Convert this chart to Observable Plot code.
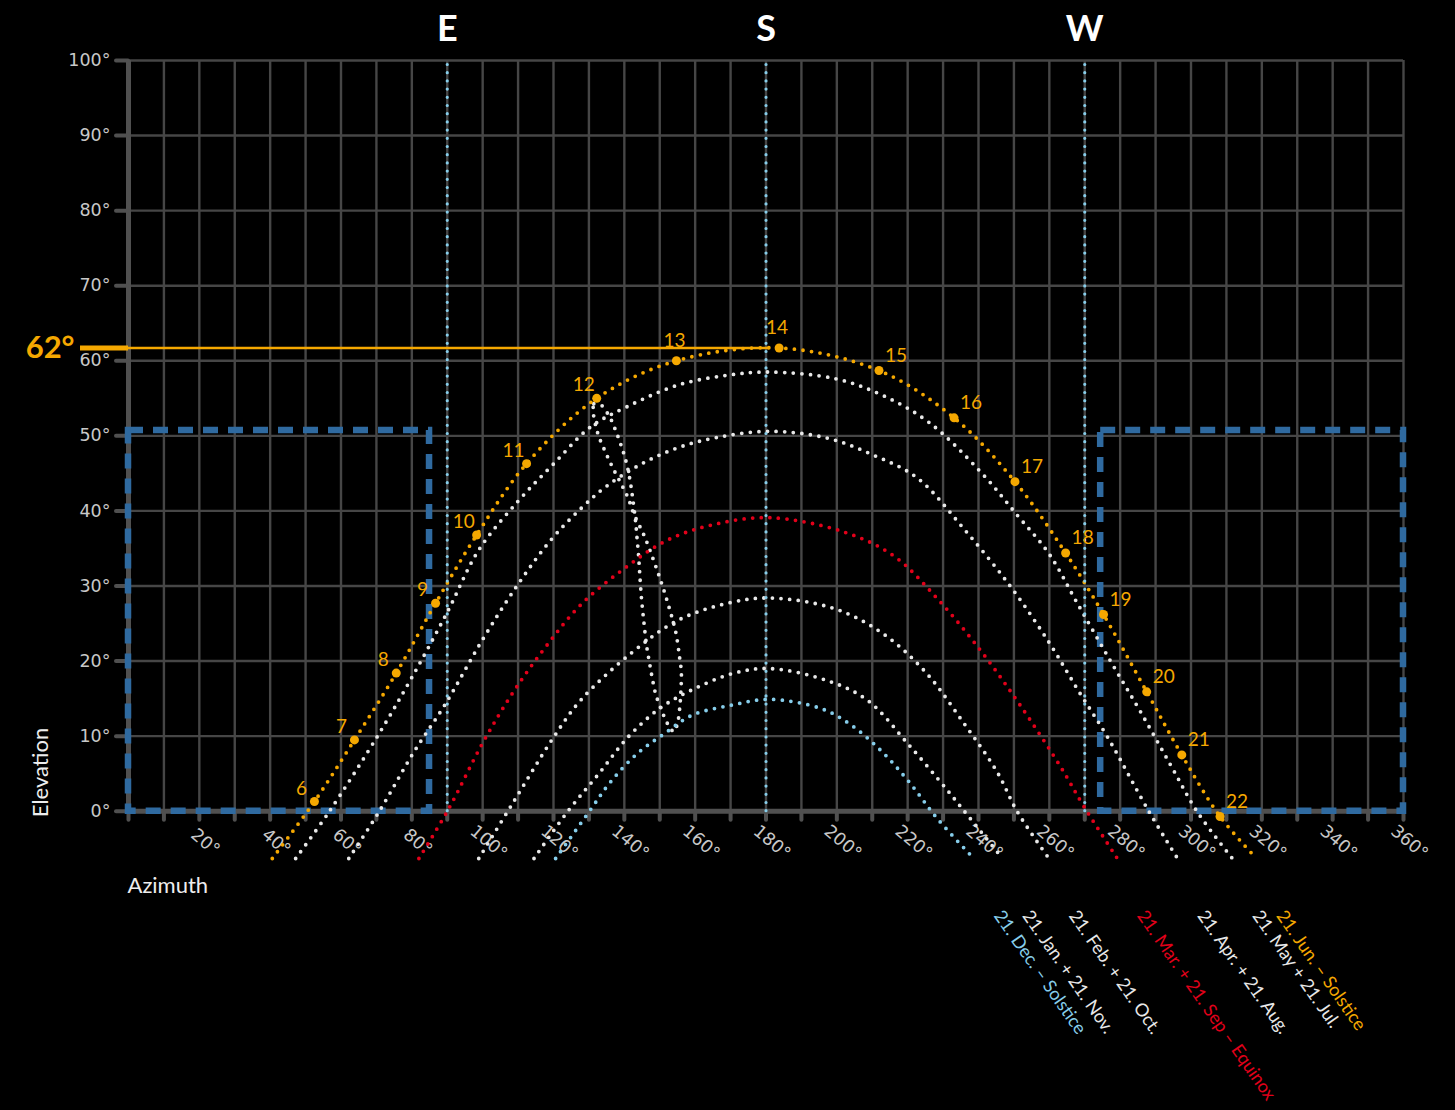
<!DOCTYPE html>
<html><head><meta charset="utf-8">
<script src="https://cdn.jsdelivr.net/npm/d3@7"></script>
<script src="https://cdn.jsdelivr.net/npm/@observablehq/plot@0.6"></script>
<style>html,body{margin:0;padding:0;background:#000;} #chart{width:1455px;height:1110px;}</style>
</head><body><div id="chart"></div>
<script>
// ---------- data (azimuth°, elevation°) ----------
const xGrid = [0,10,20,30,40,50,60,70,80,90,100,110,120,130,140,150,160,170,180,190,200,210,220,230,240,250,260,270,280,290,300,310,320,330,340,350,360];
const xTickLabels = [20,40,60,80,100,120,140,160,180,200,220,240,260,280,300,320,340,360];
const yGrid = [0,10,20,30,40,50,60,70,80,90,100];
const compassAz = [90,180,270];
const compassLabels = ["E","S","W"];

const junSolstice = [[40.6,-6.3],[52.5,1.3],[63.8,9.5],[75.6,18.4],[86.7,27.7],[98.3,36.8],[112.4,46.3],[132.2,55.0],[154.7,60.0],[183.7,61.7],[211.9,58.7],[233.1,52.4],[250.3,43.9],[264.6,34.4],[275.3,26.2],[287.5,15.9],[297.4,7.5],[308.2,-0.7],[318.5,-6.3]];
const junHours = [null,6,7,8,9,10,11,12,13,14,15,16,17,18,19,20,21,22,null];
const mayJul = [[47.2,-6.3],[56.6,-0.1],[70.7,10.3],[80.1,17.9],[90.0,26.5],[98.9,34.8],[110.2,41.4],[120.1,46.3],[130.5,51.2],[140.4,53.8],[155.4,56.8],[169.5,58.1],[181,58.5],[199.7,57.6],[212.9,55.4],[226.0,51.8],[240.6,45.2],[251.0,39.4],[259.9,34.3],[267.9,27.7],[277.4,19.9],[285.8,13.2],[294.3,6.1],[301.8,-0.1],[311.7,-6.3]];
const aprAug = [[62.2,-6.3],[70.7,-0.1],[80.6,7.9],[89.5,14.3],[99.9,22.8],[109.8,30.1],[119.2,36.1],[127.7,40.3],[134.7,43.2],[144.6,46.2],[155.0,48.4],[166.3,49.8],[181,50.6],[197.3,49.7],[210.5,47.4],[222.7,44.4],[235.9,37.6],[249.1,29.9],[259.9,22.5],[268.4,15.9],[276.4,9.9],[288.2,-0.1],[296.2,-6.3]];
const marSep = [[82.0,-6.3],[90.5,0.4],[99.9,9.0],[108.4,15.7],[117.8,21.9],[127.7,27.5],[139.9,32.3],[152.1,36.1],[165.3,38.2],[181,39.1],[202.0,37.2],[216.1,34.0],[228.4,28.3],[240.6,21.4],[251.5,14.3],[263.2,5.9],[269.8,0.6],[279.2,-6.3]];
const febOct = [[98.9,-6.3],[108.4,1.0],[120.1,9.9],[127.7,14.8],[141.8,21.0],[155.0,25.4],[169.1,27.7],[181,28.4],[199.2,27.0],[212.9,23.7],[225.1,18.5],[235.9,11.7],[245.3,5.2],[251.0,-0.1],[259.9,-6.3]];
const janNov = [[114.5,-6.3],[123.9,-0.1],[132.8,5.0],[141.3,10.0],[150.3,13.8],[159.7,16.3],[171.0,18.4],[181,19.0],[197.3,17.4],[208.6,14.8],[220.4,8.8],[231.2,2.8],[236.0,0.0],[246.8,-6.3]];
const decSolstice = [[120.6,-6.3],[130.0,-0.1],[136.1,3.9],[143.7,7.7],[151.2,10.3],[159.2,12.8],[170.0,14.1],[181,14.9],[195.4,13.7],[203.4,11.7],[212.4,8.1],[220.4,3.9],[228.4,-1.0],[238.7,-6.3]];
const analemma12h = [[132.2,55.1],[131.2,53.8],[132.4,50.5],[134.9,47.6],[136.9,45.6],[139.0,43.7],[141.0,41.8],[142.7,39.6],[145.7,36.6],[148.2,33.5],[150.5,30.4],[152.6,27.2],[154.5,23.9],[155.6,20.5],[156.1,18.5],[156.0,16.3],[155.7,14.1],[155.1,11.9],[154.0,10.6],[152.4,11.5],[150.3,13.7],[148.8,15.7],[147.9,17.7],[147.1,19.8],[146.3,22.0],[145.5,25.3],[144.8,28.6],[144.3,32.0],[144.0,34.2],[143.6,36.3],[143.2,38.5],[142.3,41.9],[141.6,44.1],[140.7,46.2],[139.4,48.3],[137.8,50.4],[135.9,52.5],[133.3,54.3]];
const curveLabels = ["21. Dec. – Solstice","21. Jan. + 21. Nov.","21. Feb. + 21. Oct.","21. Mar. + 21. Sep – Equinox","21. Apr. + 21. Aug.","21. May + 21. Jul.","21. Jun. – Solstice"];
const boxAz1 = [0, 274.5];
const boxAz2 = [85, 360];
const boxEl = [0, 50.7];
const peakAz = 181;
const peakEl = 61.7;

// ---------- styles ----------
const ORANGE = "#f5a800", RED = "#e2001a", LBLUE = "#87ceeb", WHITE = "#e8e8e8",
      BOX = "#2f6aa0", GRID = "#464646", AXIS = "#505050", TICKTXT = "#c8c8c8";

const toPts = (arr) => arr.map(([az, el]) => ({az, el}));
const curves = [
  {pts: toPts(decSolstice), label: curveLabels[0], color: LBLUE},
  {pts: toPts(janNov), label: curveLabels[1], color: WHITE},
  {pts: toPts(febOct), label: curveLabels[2], color: WHITE},
  {pts: toPts(marSep), label: curveLabels[3], color: RED},
  {pts: toPts(aprAug), label: curveLabels[4], color: WHITE},
  {pts: toPts(mayJul), label: curveLabels[5], color: WHITE},
  {pts: toPts(junSolstice), label: curveLabels[6], color: ORANGE}
];
const junPts = junSolstice.map(([az, el], i) => ({az, el, hour: junHours[i]})).filter(d => d.hour != null);
const boxes = boxAz1.map((a, i) => ({x1: a, x2: boxAz2[i], y1: boxEl[0], y2: boxEl[1]}));

const dotted = {strokeWidth: 3.8, strokeDasharray: "0,8.6", strokeLinecap: "round", curve: "catmull-rom"};

const drawOrder = [1, 2, 4, 5, 3, 0, 6];

const chart = Plot.plot({
  width: 1455, height: 1110,
  marginLeft: 128, marginRight: 52, marginTop: 60, marginBottom: 252,
  x: {domain: [0, 360], axis: null},
  y: {domain: [-6.3, 100], axis: null},
  style: {background: "#000", fontFamily: "Lato, 'Open Sans', sans-serif"},
  marks: [
    Plot.ruleX(xGrid, {y1: 0, y2: 100, stroke: GRID, strokeWidth: 2.4}),
    Plot.ruleY(yGrid, {x1: 0, x2: 360, stroke: GRID, strokeWidth: 2.4}),
    Plot.ruleY([0], {x1: 0, x2: 360, stroke: AXIS, strokeWidth: 5}),
    Plot.ruleX([0], {y1: 0, y2: 100, stroke: AXIS, strokeWidth: 5}),
    Plot.ruleX(xGrid, {y1: 0, y2: 0, insetBottom: -9, stroke: AXIS, strokeWidth: 4, strokeLinecap: "round"}),
    Plot.ruleY(yGrid, {x1: 0, x2: 0, insetLeft: -12, stroke: AXIS, strokeWidth: 4, strokeLinecap: "round"}),
    Plot.text(yGrid, {x: 0, y: d => d, dx: -18, textAnchor: "end", text: d => `${d}°`, fill: TICKTXT, fontSize: 17.5, fontFamily: "DejaVu Sans"}),
    Plot.text(xTickLabels, {x: d => d, y: 0, dx: 6, dy: 31, rotate: 40, text: d => `${d}°`, fill: TICKTXT, fontSize: 17.5, fontFamily: "DejaVu Sans"}),
    Plot.text(["Elevation"], {x: 0, y: 0, dx: -88, dy: 6, rotate: -90, textAnchor: "start", text: d => d, fill: "#eee", fontSize: 22}),
    Plot.text(["Azimuth"], {x: 0, y: 0, dx: -1, dy: 75, textAnchor: "start", text: d => d, fill: "#eee", fontSize: 22}),
    Plot.rect(boxes, {x1: "x1", x2: "x2", y1: "y1", y2: "y2", fill: "none", stroke: BOX, strokeWidth: 6.5, strokeDasharray: "15,10"}),
    Plot.ruleY([peakEl], {x1: 0, x2: peakAz, stroke: ORANGE, strokeWidth: 2.6}),
    Plot.ruleY([peakEl], {x1: 0, x2: 0, insetLeft: -48, stroke: ORANGE, strokeWidth: 5}),
    Plot.text([peakEl], {x: 0, y: d => d, dx: -54, textAnchor: "end", text: d => `${Math.round(d)}°`, fill: ORANGE, fontSize: 31, fontWeight: 700}),
    Plot.line(toPts(analemma12h), {x: "az", y: "el", stroke: WHITE, ...dotted, curve: "catmull-rom-closed"}),
    ...drawOrder.map(i => Plot.line(curves[i].pts, {x: "az", y: "el", stroke: curves[i].color, ...dotted})),
    Plot.ruleX(compassAz, {y1: 0, y2: 100, stroke: LBLUE, strokeWidth: 3.2, strokeDasharray: "0,8.2", strokeLinecap: "round"}),
    Plot.text(compassAz, {x: d => d, y: 100, dy: -31, text: (d, i) => compassLabels[i], fill: "#fff", fontSize: 36, fontWeight: 700}),
    Plot.dot(junPts, {x: "az", y: "el", r: 4.5, fill: ORANGE}),
    Plot.text(junPts.filter(d => d.hour <= 12), {x: "az", y: "el", text: "hour", dx: -13, dy: -13, fill: ORANGE, fontSize: 19}),
    Plot.text(junPts.filter(d => d.hour > 12 && d.hour <= 14), {x: "az", y: "el", text: "hour", dx: -2, dy: -20, fill: ORANGE, fontSize: 19}),
    Plot.text(junPts.filter(d => d.hour > 14), {x: "az", y: "el", text: "hour", dx: 17, dy: -15, fill: ORANGE, fontSize: 19}),
    ...curves.map(c => Plot.text([c.pts[c.pts.length - 1]], {x: "az", y: "el", text: () => c.label, rotate: 55, textAnchor: "start", dx: 24, dy: 54, fill: c.color, fontSize: 18}))
  ]
});
document.getElementById("chart").appendChild(chart);
</script></body></html>
